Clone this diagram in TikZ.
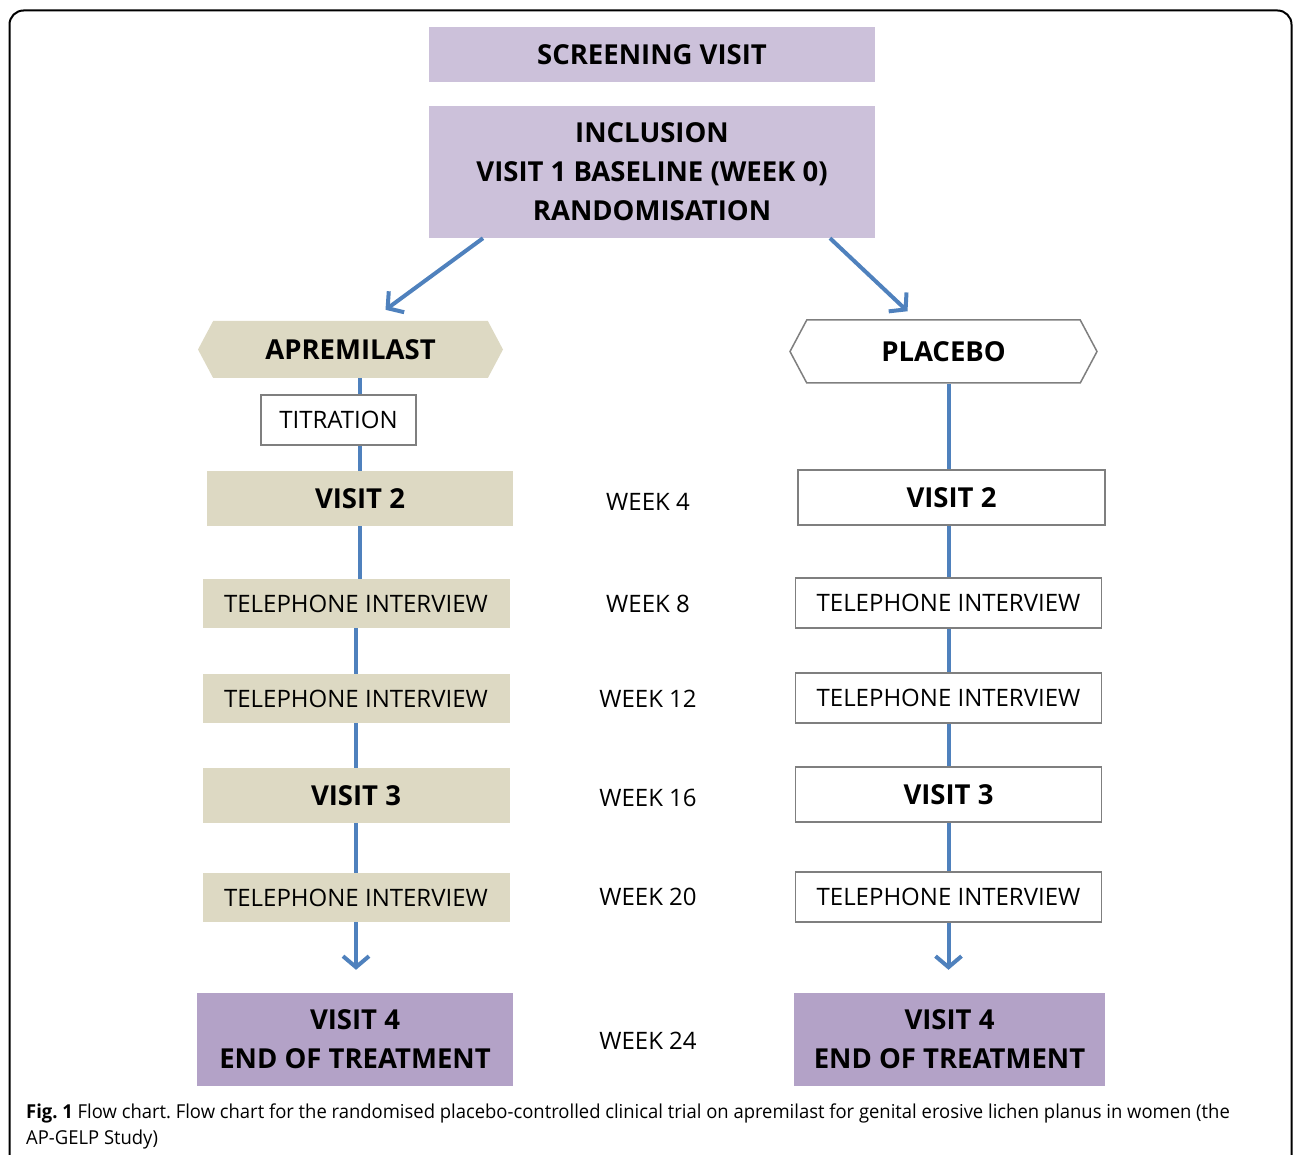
\documentclass[tikz,border=0pt]{standalone}
\usepackage{fontspec}
\setmainfont{Open Sans}
\newfontfamily\capfont[FakeStretch=0.96]{Open Sans}
\usetikzlibrary{shapes.symbols,arrows.meta,backgrounds}
\frenchspacing

\definecolor{tanfill}{HTML}{DDD9C3}
\definecolor{lilac}{HTML}{CCC1DA}
\definecolor{mauve}{HTML}{B3A2C7}
\definecolor{flowblue}{HTML}{4F81BD}
\definecolor{edgegray}{HTML}{7F7F7F}

\tikzset{
  box/.style={rectangle, inner sep=0pt, align=center},
  boldtext/.style={font=\fontsize{27.5}{39}\selectfont\bfseries},
  plaintext/.style={font=\fontsize{24}{30}\selectfont},
  tanbox/.style={box, fill=tanfill},
  whitebox/.style={box, draw=edgegray, line width=1.5pt, fill=white},
  arm/.style={signal, signal to=west and east, signal pointer angle=124, inner sep=0pt},
  link/.style={draw=flowblue, line width=4pt},
  flowarrow/.style={link, -{Straight Barb[length=11pt,width=26pt]}},
}

\begin{document}
\begin{tikzpicture}[x=1pt,y=-1pt]
  \useasboundingbox (0,0) rectangle (1293,1155);
  \draw[line width=2pt, rounded corners=14pt] (9.5,1155) -- (9.5,10.5) -- (1291.5,10.5) -- (1291.5,1155);

  % top boxes
  \node[box, fill=lilac, boldtext, minimum width=446, minimum height=55] (screen) at (652,54.5) {SCREENING VISIT};
  \node[box, fill=lilac, boldtext, minimum width=446, minimum height=132] (incl) at (652,172)
    {INCLUSION\\VISIT 1 BASELINE (WEEK 0)\\RANDOMISATION};

  % the two arms
  \node[arm, fill=tanfill, boldtext, minimum width=305, minimum height=57] (apre) at (350.5,349.5) {APREMILAST};
  \node[arm, draw=edgegray, line width=1.5pt, fill=white, boldtext, minimum width=307, minimum height=63] (plac) at (943.5,351.5) {PLACEBO};

  % apremilast column
  \node[whitebox, plaintext, minimum width=155, minimum height=50] (titr) at (338.5,420) {TITRATION};
  \node[tanbox, boldtext, minimum width=306, minimum height=55] (av2) at (360,498.5) {VISIT 2};
  \node[tanbox, plaintext, minimum width=307, minimum height=49] (at1) at (356,603.5) {TELEPHONE INTERVIEW};
  \node[tanbox, plaintext, minimum width=307, minimum height=49] (at2) at (356,698.5) {TELEPHONE INTERVIEW};
  \node[tanbox, boldtext, minimum width=307, minimum height=55] (av3) at (356,795.5) {VISIT 3};
  \node[tanbox, plaintext, minimum width=307, minimum height=49] (at3) at (356,897.5) {TELEPHONE INTERVIEW};
  \node[box, fill=mauve, boldtext, minimum width=316, minimum height=93] (av4) at (355,1039.5) {VISIT 4\\END OF TREATMENT};

  % placebo column
  \node[whitebox, boldtext, minimum width=307, minimum height=55] (pv2) at (951.5,497.5) {VISIT 2};
  \node[whitebox, plaintext, minimum width=306, minimum height=50] (pt1) at (948.5,603) {TELEPHONE INTERVIEW};
  \node[whitebox, plaintext, minimum width=306, minimum height=50] (pt2) at (948.5,698) {TELEPHONE INTERVIEW};
  \node[whitebox, boldtext, minimum width=306, minimum height=55] (pv3) at (948.5,794.5) {VISIT 3};
  \node[whitebox, plaintext, minimum width=306, minimum height=50] (pt3) at (948.5,897) {TELEPHONE INTERVIEW};
  \node[box, fill=mauve, boldtext, minimum width=311, minimum height=93] (pv4) at (949.5,1039.5) {VISIT 4\\END OF TREATMENT};

  % weeks
  \node[plaintext] (w4) at (648,502) {WEEK 4};
  \node[plaintext] (w8) at (648,604) {WEEK 8};
  \node[plaintext] (w12) at (648,699) {WEEK 12};
  \node[plaintext] (w16) at (648,798) {WEEK 16};
  \node[plaintext] (w20) at (648,897) {WEEK 20};
  \node[plaintext] (w24) at (648,1041) {WEEK 24};

  % connectors
  \draw[flowarrow] ([xshift=-169pt]incl.south) -- ([xshift=35pt,yshift=11pt]apre.north);
  \draw[flowarrow] ([xshift=178pt]incl.south) -- ([xshift=-36pt,yshift=8pt]plac.north);
  \begin{scope}[on background layer]
    \draw[link] (apre.south -| av2.north) -- (av2.north);
    \draw[link] (av2.south) -- (av2.south |- at1.north);
    \draw[link] (at1.south) -- (at2.north);
    \draw[link] (at2.south) -- (av3.north);
    \draw[link] (av3.south) -- (at3.north);
    \draw[link] (plac.south -| pt1.north) -- (pt1.north |- pv2.north);
    \draw[link] (pt1.north |- pv2.south) -- (pt1.north);
    \draw[link] (pt1.south) -- (pt2.north);
    \draw[link] (pt2.south) -- (pv3.north);
    \draw[link] (pv3.south) -- (pt3.north);
  \end{scope}
  \draw[flowarrow, shorten >=23pt] (at3.south) -- (at3.south |- av4.north);
  \draw[flowarrow, shorten >=23pt] (pt3.south) -- (pt3.south |- pv4.north);

  % caption
  \node[anchor=north west, inner sep=0pt, align=left, font=\capfont\fontsize{19.2}{26}\selectfont] (cap) at (26,1104)
    {\textbf{Fig. 1} Flow chart. Flow chart for the randomised placebo-controlled clinical trial on apremilast for genital erosive lichen planus in women (the\\AP-GELP Study)};
\end{tikzpicture}
\end{document}
